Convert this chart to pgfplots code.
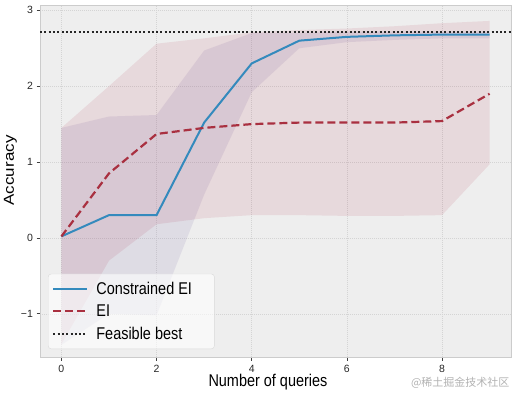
\documentclass[border=0pt]{standalone}
\usepackage{fontspec}
\setmainfont{Liberation Sans}
\newfontfamily\cjk{Noto Sans CJK SC}
\usepackage{graphicx}
\usepackage{pgfplots}
\usepackage{pgfplotstable}
\usepgfplotslibrary{fillbetween}
\pgfplotsset{compat=1.18}
\definecolor{bgc}{HTML}{EEEEEE}
\definecolor{cblue}{HTML}{348ABD}
\definecolor{cred}{HTML}{A93040}
\definecolor{cpurp}{HTML}{7A68A6}
\definecolor{cband}{HTML}{A60628}

\pgfplotstableread{
x mean lo hi
0 0.02 -1.41 1.45
1 0.30 -1.00 1.60
2 0.30 -1.02 1.62
3 1.52 0.57 2.47
4 2.30 1.92 2.70
5 2.60 2.50 2.70
6 2.65 2.58 2.72
7 2.67 2.61 2.72
8 2.68 2.63 2.72
9 2.68 2.63 2.72
}\cei

\pgfplotstableread{
x mean lo hi
0 0.02 -1.40 1.45
1 0.85 -0.30 2.00
2 1.37 0.18 2.56
3 1.45 0.26 2.63
4 1.50 0.30 2.71
5 1.52 0.30 2.74
6 1.52 0.29 2.76
7 1.52 0.29 2.79
8 1.54 0.30 2.83
9 1.90 0.97 2.86
}\ei

\begin{document}
\begin{tikzpicture}
\begin{axis}[
  scale only axis, width=471pt, height=352pt,
  xmin=-0.45, xmax=9.45, ymin=-1.57, ymax=3.07,
  axis background/.style={fill=bgc},
  axis line style={black!20, line width=0.6pt},
  xtick={0,2,4,6,8}, xticklabels={0,2,4,6,8},
  ytick={-1,0,1,2,3}, yticklabels={−1,0,1,2,3},
  tick align=outside, xtick pos=bottom, ytick pos=left,
  major tick length=3.5pt,
  tick style={black!75, line width=0.6pt},
  ticklabel style={font=\fontsize{10.5}{12}\selectfont, text=black!85},
  xticklabel style={yshift=-1pt},
  grid=major, grid style={black!17, line width=0.5pt, dash pattern=on 1pt off 1pt},
  xlabel={\scalebox{0.85}[1]{Number of queries}},
  ylabel={\scalebox{1}[0.85]{Accuracy}},
  label style={font=\fontsize{17}{17}\selectfont},
  xlabel style={at={(axis description cs:0.484,0)}, anchor=center, yshift=-25pt},
  ylabel style={at={(axis description cs:-0.0626,0.53)}, anchor=center},
  legend style={at={(0.017,0.0227)}, anchor=south west, draw=black!15,
    fill=white, fill opacity=0.6, text opacity=1, rounded corners=3pt,
    inner xsep=4pt, inner ysep=6pt, row sep=5pt,
    font=\fontsize{17}{19}\selectfont},
  legend cell align=left,
  legend image code/.code={\draw[#1] (0pt,0pt) -- (34pt,0pt); \path (40pt,0pt);},
]
\addplot[name path=bh, draw=none, forget plot] table[x=x,y=hi]{\cei};
\addplot[name path=bl, draw=none, forget plot] table[x=x,y=lo]{\cei};
\addplot[cpurp, fill opacity=0.13, draw=none, forget plot] fill between[of=bh and bl];
\addplot[name path=rh, draw=none, forget plot] table[x=x,y=hi]{\ei};
\addplot[name path=rl, draw=none, forget plot] table[x=x,y=lo]{\ei};
\addplot[cband, fill opacity=0.09, draw=none, forget plot] fill between[of=rh and rl];

\addplot[cblue, line width=2pt] table[x=x,y=mean]{\cei};
\addlegendentry{\makebox[112pt][l]{\scalebox{0.85}[1]{Constrained EI}}}
\addplot[cred, line width=2.2pt, dash pattern=on 8pt off 4pt] table[x=x,y=mean]{\ei};
\addlegendentry{\scalebox{0.85}[1]{EI}}
\addplot[black!85, line width=2pt, dash pattern=on 2pt off 2.3pt] coordinates {(-0.45,2.72) (9.45,2.72)};
\addlegendentry{\scalebox{0.85}[1]{Feasible best}}
\end{axis}
\node[anchor=east, text=black!30, font=\cjk\fontsize{11}{11}\selectfont] at (473pt,-26pt) {@稀土掘金技术社区};
\pgfresetboundingbox
\useasboundingbox (-40pt,-35pt) rectangle (477pt,357pt);
\end{tikzpicture}
\end{document}
